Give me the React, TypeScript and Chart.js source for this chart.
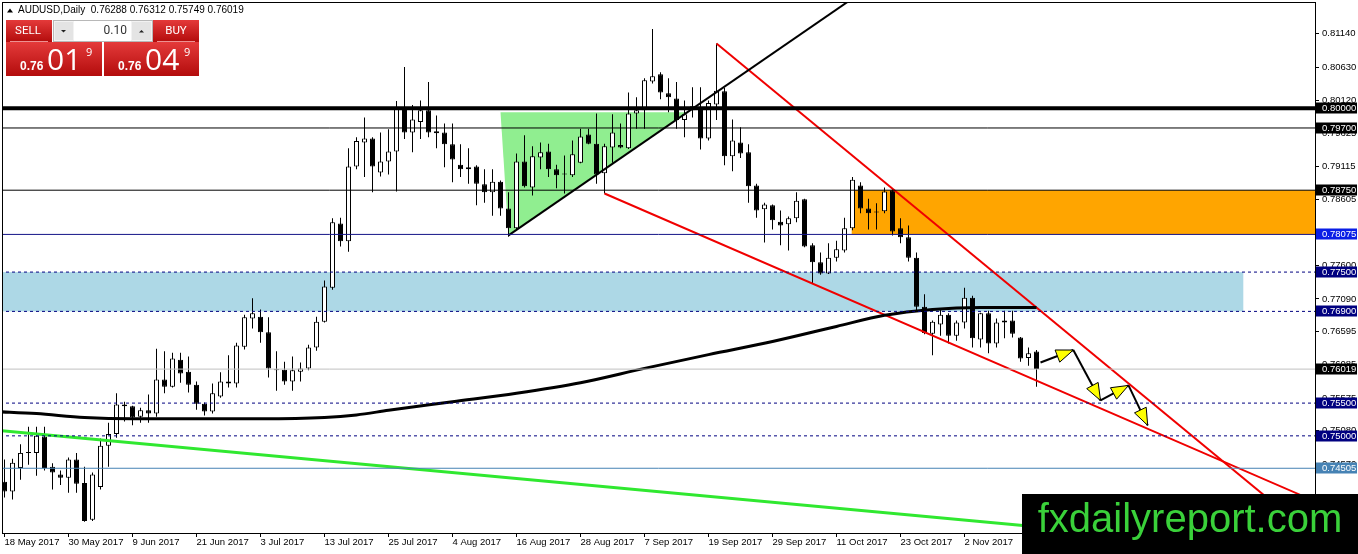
import { useEffect, useRef } from "react";
import { Chart, registerables } from "chart.js";

Chart.register(...registerables);

// AUDUSD daily candles, bar 0 = 18 May 2017, last bar = 15 Nov 2017
const opens = [
  0.743, 0.7415, 0.7451, 0.7474, 0.7474, 0.7499, 0.7453, 0.7441, 0.7436, 0.7464,
  0.7428, 0.7372, 0.7422, 0.7485, 0.7503, 0.7548, 0.7545, 0.7529, 0.7539, 0.7534,
  0.7586, 0.7575, 0.7616, 0.7598, 0.7578, 0.7549, 0.7537, 0.756, 0.7583, 0.758,
  0.7636, 0.7679, 0.7682, 0.7658, 0.7601, 0.7601, 0.7583, 0.7598, 0.7603, 0.7635,
  0.7674, 0.7726, 0.7824, 0.7797, 0.7911, 0.7948, 0.7954, 0.7902, 0.7919, 0.7934,
  0.8001, 0.7963, 0.7979, 0.7997, 0.7965, 0.7963, 0.7945, 0.7914, 0.791, 0.7911,
  0.7884, 0.7872, 0.7888, 0.7847, 0.7817, 0.7919, 0.7879, 0.7925, 0.7934, 0.7907,
  0.7899, 0.7898, 0.7917, 0.796, 0.7946, 0.7901, 0.794, 0.7944, 0.7939, 0.7992,
  0.7997, 0.8041, 0.8052, 0.8023, 0.8015, 0.7982, 0.8003, 0.8001, 0.7954, 0.8006,
  0.8026, 0.7927, 0.7948, 0.7933, 0.7882, 0.7846, 0.7852, 0.7827, 0.7823, 0.7832,
  0.7861, 0.7791, 0.7765, 0.7748, 0.7772, 0.7783, 0.7817, 0.7882, 0.7847, 0.7841,
  0.7843, 0.7875, 0.7817, 0.7803, 0.7772, 0.7697, 0.7656, 0.767, 0.7685, 0.7653,
  0.7673, 0.7711, 0.7647, 0.7687, 0.7641, 0.7676, 0.7676, 0.765, 0.7619, 0.76288,
];
const highs = [
  0.7464, 0.7465, 0.7487, 0.7514, 0.7514, 0.7514, 0.7458, 0.7447, 0.7467, 0.7474,
  0.7453, 0.7444, 0.7496, 0.752, 0.7565, 0.7552, 0.7546, 0.7543, 0.7563, 0.7633,
  0.7629, 0.7627, 0.7627, 0.7621, 0.7583, 0.7551, 0.758, 0.7597, 0.7623, 0.7642,
  0.7685, 0.771, 0.7693, 0.7681, 0.7629, 0.7613, 0.7621, 0.7612, 0.7639, 0.7682,
  0.7737, 0.7832, 0.7833, 0.7939, 0.7956, 0.7986, 0.7956, 0.7963, 0.7968, 0.8011,
  0.8063, 0.8005, 0.8012, 0.804, 0.7989, 0.7977, 0.7977, 0.7945, 0.7939, 0.7913,
  0.7907, 0.7907, 0.789, 0.7872, 0.7931, 0.7959, 0.7942, 0.7948, 0.7946, 0.7914,
  0.7928, 0.7951, 0.7969, 0.7969, 0.7992, 0.7946, 0.7991, 0.7977, 0.8024, 0.8017,
  0.8046, 0.8121, 0.8055, 0.8046, 0.804, 0.8012, 0.8032, 0.8032, 0.8012, 0.8099,
  0.8031, 0.7983, 0.7971, 0.7945, 0.7885, 0.7856, 0.7853, 0.7844, 0.7835, 0.7872,
  0.7862, 0.7794, 0.778, 0.7794, 0.7798, 0.7833, 0.7895, 0.7887, 0.7862, 0.7855,
  0.7879, 0.7878, 0.7832, 0.7821, 0.778, 0.7716, 0.7676, 0.7693, 0.7687, 0.7676,
  0.7726, 0.7714, 0.7688, 0.7691, 0.7679, 0.7691, 0.7691, 0.7651, 0.7635, 0.76312,
];
const lows = [
  0.7406, 0.7403, 0.7433, 0.7456, 0.7439, 0.7447, 0.7418, 0.7425, 0.7413, 0.7413,
  0.7369, 0.737, 0.7418, 0.7453, 0.7497, 0.7522, 0.7516, 0.752, 0.752, 0.7529,
  0.7565, 0.7574, 0.7581, 0.7566, 0.754, 0.7531, 0.7534, 0.7558, 0.7574, 0.7574,
  0.7632, 0.7664, 0.7642, 0.7589, 0.7569, 0.7578, 0.7569, 0.7583, 0.76, 0.763,
  0.7673, 0.7723, 0.7789, 0.7781, 0.7907, 0.7895, 0.7872, 0.7896, 0.7899, 0.7873,
  0.7953, 0.7933, 0.7953, 0.7956, 0.7939, 0.791, 0.7887, 0.7895, 0.7885, 0.7852,
  0.7856, 0.7836, 0.7836, 0.7804, 0.7814, 0.7879, 0.7867, 0.7907, 0.7895, 0.7878,
  0.787, 0.7895, 0.7916, 0.7945, 0.7885, 0.787, 0.7917, 0.7939, 0.7938, 0.7969,
  0.7969, 0.8038, 0.8014, 0.7994, 0.7969, 0.7956, 0.7986, 0.7937, 0.7951, 0.7982,
  0.7913, 0.7904, 0.7924, 0.7856, 0.7833, 0.7795, 0.7815, 0.7791, 0.7783, 0.7826,
  0.7788, 0.7733, 0.7746, 0.7747, 0.7766, 0.778, 0.7814, 0.784, 0.7815, 0.7815,
  0.784, 0.7806, 0.7794, 0.7766, 0.7691, 0.7655, 0.7623, 0.7653, 0.7641, 0.7645,
  0.7664, 0.7635, 0.7635, 0.7626, 0.7635, 0.7649, 0.765, 0.7613, 0.7607, 0.75749,
];
const closes = [
  0.7415, 0.7459, 0.7474, 0.7475, 0.75, 0.7451, 0.7444, 0.7436, 0.7464, 0.7427,
  0.737, 0.7441, 0.7485, 0.7503, 0.7548, 0.7545, 0.7528, 0.7539, 0.7534, 0.7586,
  0.7575, 0.7618, 0.7595, 0.7578, 0.7549, 0.7537, 0.7565, 0.7583, 0.758, 0.7638,
  0.7681, 0.7687, 0.7658, 0.7603, 0.76, 0.7583, 0.76, 0.7603, 0.7635, 0.7674,
  0.7728, 0.7826, 0.7797, 0.7911, 0.795, 0.7954, 0.7911, 0.7919, 0.7934, 0.8001,
  0.7963, 0.7983, 0.7997, 0.7963, 0.7962, 0.7945, 0.7922, 0.7907, 0.7907, 0.7885,
  0.7872, 0.7888, 0.7847, 0.7817, 0.7919, 0.7881, 0.7927, 0.7933, 0.7907, 0.7898,
  0.79, 0.793, 0.7957, 0.7946, 0.7899, 0.7942, 0.7963, 0.794, 0.7992, 0.7997,
  0.8043, 0.8049, 0.8024, 0.8017, 0.7982, 0.7991, 0.7997, 0.7954, 0.8008, 0.8027,
  0.7927, 0.7951, 0.7931, 0.7881, 0.7844, 0.7853, 0.7829, 0.7821, 0.7832, 0.7859,
  0.7789, 0.7765, 0.7748, 0.7772, 0.7785, 0.7817, 0.7891, 0.7847, 0.784, 0.7842,
  0.7873, 0.7812, 0.7803, 0.7772, 0.7697, 0.7657, 0.7674, 0.7685, 0.7653, 0.7673,
  0.7711, 0.7649, 0.7687, 0.7641, 0.7673, 0.7673, 0.7656, 0.7618, 0.7626, 0.76019,
];

const dateTicks = [0, 8, 16, 24, 32, 40, 48, 56, 64, 72, 80, 88, 96, 104, 112, 120];
const dateLabels = [
  "18 May 2017", "30 May 2017", "9 Jun 2017", "21 Jun 2017", "3 Jul 2017",
  "13 Jul 2017", "25 Jul 2017", "4 Aug 2017", "16 Aug 2017", "28 Aug 2017",
  "7 Sep 2017", "19 Sep 2017", "29 Sep 2017", "11 Oct 2017", "23 Oct 2017",
  "2 Nov 2017",
];
const priceTicks = [
  0.8114, 0.8063, 0.8012, 0.79625, 0.79115, 0.78605, 0.78095, 0.776, 0.7709,
  0.76595, 0.76085, 0.75575, 0.7508, 0.7457, 0.7406,
];

// horizontal levels drawn across the chart
const levels = [0.8, 0.797, 0.7875, 0.78075, 0.775, 0.769, 0.76019, 0.755, 0.75, 0.74505];

// rectangles: light blue zone, orange zone
const zoneFrom = [-2, 105.9];
const zoneTo = [154.85, 200];
const zoneTop = [0.775, 0.7875];
const zoneBottom = [0.769, 0.78075];

const triangleIdx = [62, 63, 85.4];
const trianglePrice = [0.7994, 0.7806, 0.7994];

// trend lines, two anchor points each (bar index, price)
const risingTrend = [[63, 0.7806], [102, 0.8134]];
const wedgeTop = [[89, 0.8099], [141.6, 0.7569]];
const wedgeBottom = [[75, 0.787], [137, 0.7542]];
const longTrend = [[-0.5, 0.7508], [29.5, 0.7474]];

// moving average read at a few bars
const maIdx = [-1, 4, 10, 16, 24, 32, 40, 44, 48, 56, 64, 72, 80, 88, 96, 104, 110, 116, 122, 129];
const maVals = [
  0.7537, 0.7534, 0.7528, 0.7526, 0.7526, 0.7526, 0.7528, 0.7532, 0.7539, 0.7552,
  0.7565, 0.7581, 0.7603, 0.7624, 0.7644, 0.7667, 0.7684, 0.7693, 0.7696, 0.7696,
];

// projected path with arrows
const pathIdx = [129.5, 133.6, 137, 140.5, 142.9];
const pathPrice = [0.7612, 0.7631, 0.7554, 0.7577, 0.7516];

const X_MIN = -0.3125;
const X_MAX = 163.8125;
const Y_MIN = 0.73517;
const Y_MAX = 0.81623;

const levelColor = ["#000000", "#000000", "#000000", "#141488", "#000080", "#000080", "#c0c0c0", "#000080", "#000080", "#4682b4"];
const levelWidth = [4, 1, 1, 1, 1, 1, 1, 1, 1, 1];
const levelDash = [[], [], [], [], [3, 3], [3, 3], [], [3, 3], [3, 3], []];
const tagColor = ["#000000", "#000000", "#000000", "#0a1ee6", "#000080", "#000080", "#000000", "#000080", "#000080", "#4682b4"];
const zoneColor = ["#add8e6", "#ffa500"];

const AXIS_FONT = '"Liberation Sans", Arial, sans-serif';

function extend(pts: number[][], from: number, to: number) {
  const [[x1, y1], [x2, y2]] = pts;
  const m = (y2 - y1) / (x2 - x1);
  return [
    { x: from, y: y1 + m * (from - x1) },
    { x: to, y: y1 + m * (to - x1) },
  ];
}

function lineSet(data: any[], color: string, width: number, dash: number[] = []) {
  return {
    type: "line" as const,
    data,
    borderColor: color,
    borderWidth: width,
    borderDash: dash,
    pointRadius: 0,
    fill: false,
    tension: 0,
    order: 0,
  };
}

function redBox(ctx: CanvasRenderingContext2D, x: number, y: number, w: number, h: number) {
  const g = ctx.createLinearGradient(0, y, 0, y + h);
  g.addColorStop(0, "#e43a3a");
  g.addColorStop(1, "#b30c0c");
  ctx.fillStyle = g;
  ctx.fillRect(x, y, w, h);
}

const overlay = {
  id: "overlay",
  beforeDatasetsDraw(chart: any) {
    const { ctx, chartArea: a, scales } = chart;
    const px = (v: number) => scales.x.getPixelForValue(v);
    const py = (v: number) => scales.y.getPixelForValue(v);
    ctx.save();
    ctx.beginPath();
    ctx.rect(a.left, a.top, a.right - a.left, a.bottom - a.top);
    ctx.clip();
    zoneFrom.forEach((f, i) => {
      ctx.fillStyle = zoneColor[i];
      const x1 = px(f);
      const y1 = py(zoneTop[i]);
      ctx.fillRect(x1, y1, px(zoneTo[i]) - x1, py(zoneBottom[i]) - y1);
    });
    ctx.fillStyle = "#90ee90";
    ctx.beginPath();
    triangleIdx.forEach((t, i) => {
      const fn = i === 0 ? "moveTo" : "lineTo";
      ctx[fn](px(t), py(trianglePrice[i]));
    });
    ctx.closePath();
    ctx.fill();
    ctx.restore();
  },
  afterDatasetsDraw(chart: any) {
    const { ctx, scales } = chart;
    const px = (v: number) => scales.x.getPixelForValue(v);
    const py = (v: number) => scales.y.getPixelForValue(v);
    ctx.save();
    for (let k = 0; k < pathIdx.length - 1; k++) {
      const x1 = px(pathIdx[k]);
      const y1 = py(pathPrice[k]);
      const x2 = px(pathIdx[k + 1]);
      const y2 = py(pathPrice[k + 1]);
      ctx.strokeStyle = "#000";
      ctx.lineWidth = 2;
      ctx.beginPath();
      ctx.moveTo(x1, y1);
      ctx.lineTo(x2, y2);
      ctx.stroke();
      const ang = Math.atan2(y2 - y1, x2 - x1);
      const len = 17;
      const half = 6.5;
      const bx = x2 - len * Math.cos(ang);
      const by = y2 - len * Math.sin(ang);
      const nx = -Math.sin(ang) * half;
      const ny = Math.cos(ang) * half;
      ctx.beginPath();
      ctx.moveTo(x2, y2);
      ctx.lineTo(bx + nx, by + ny);
      ctx.lineTo(bx - nx, by - ny);
      ctx.closePath();
      ctx.fillStyle = "#ffff00";
      ctx.fill();
      ctx.lineWidth = 1;
      ctx.stroke();
    }
    ctx.restore();
  },
  afterDraw(chart: any) {
    const { ctx, chartArea: a, scales } = chart;
    const py = (v: number) => scales.y.getPixelForValue(v);
    ctx.save();
    // frame
    ctx.strokeStyle = "#000";
    ctx.lineWidth = 1;
    ctx.strokeRect(a.left + 0.5, a.top + 0.5, a.right - a.left, a.bottom - a.top);

    // price tags on the right axis
    ctx.font = `9.5px ${AXIS_FONT}`;
    ctx.textBaseline = "middle";
    ctx.textAlign = "left";
    levels.forEach((lv, i) => {
      const y = Math.round(py(lv));
      ctx.fillStyle = tagColor[i];
      ctx.fillRect(a.right + 1, y - 5.5, 41, 11);
      ctx.fillStyle = "#fff";
      ctx.fillText(lv.toFixed(5), a.right + 7, y + 0.5);
    });

    // header
    ctx.fillStyle = "#000";
    ctx.beginPath();
    ctx.moveTo(7, 12.5);
    ctx.lineTo(13, 12.5);
    ctx.lineTo(10, 8.5);
    ctx.closePath();
    ctx.fill();
    ctx.font = `10px ${AXIS_FONT}`;
    ctx.fillText("AUDUSD,Daily  0.76288 0.76312 0.75749 0.76019", 18, 10.5);

    // one-click trading panel
    redBox(ctx, 6, 20, 46, 22);
    redBox(ctx, 153, 20, 46, 22);
    redBox(ctx, 6, 42, 96, 34);
    redBox(ctx, 104, 42, 95, 34);
    ctx.fillStyle = "rgba(255,190,190,0.75)";
    ctx.fillRect(10, 41, 38, 1);
    ctx.fillRect(157, 41, 38, 1);
    ctx.fillStyle = "#f2f2f2";
    ctx.fillRect(53, 20, 100, 22);
    ctx.strokeStyle = "#b8b8b8";
    ctx.strokeRect(53.5, 20.5, 99, 21);
    ctx.fillStyle = "#e4e4e4";
    ctx.fillRect(55, 22, 18, 18);
    ctx.fillRect(132, 22, 19, 18);
    ctx.fillStyle = "#fff";
    ctx.fillRect(74, 21, 57, 20);
    ctx.fillStyle = "#222";
    ctx.beginPath();
    ctx.moveTo(61, 30);
    ctx.lineTo(66, 30);
    ctx.lineTo(63.5, 32.5);
    ctx.closePath();
    ctx.fill();
    ctx.beginPath();
    ctx.moveTo(139, 32.5);
    ctx.lineTo(144, 32.5);
    ctx.lineTo(141.5, 30);
    ctx.closePath();
    ctx.fill();
    ctx.font = "12px Roboto";
    ctx.textAlign = "right";
    ctx.fillStyle = "#333";
    ctx.fillText("0.10", 127, 31);

    ctx.fillStyle = "#fff";
    ctx.textAlign = "center";
    ctx.font = "11.5px Roboto";
    ctx.fillText("SELL", 28, 31.5);
    ctx.fillText("BUY", 176, 31.5);

    ctx.textAlign = "left";
    ctx.textBaseline = "alphabetic";
    const bigQuote = (x: number, digits: string) => {
      ctx.font = `bold 12px ${AXIS_FONT}`;
      ctx.fillText("0.76", x, 70);
      ctx.font = '30px "Open Sans"';
      ctx.fillText(digits, x + 27, 70);
      ctx.font = '11px "Open Sans"';
      ctx.fillText("9", x + 66, 56);
    };
    bigQuote(20, "01");
    bigQuote(118, "04");

    // watermark
    ctx.fillStyle = "#000";
    ctx.fillRect(1022, 494, 336, 60);
    ctx.fillStyle = "#3ad13a";
    ctx.font = `40px ${AXIS_FONT}`;
    ctx.textAlign = "center";
    ctx.fillText("fxdailyreport.com", 1190, 532);
    ctx.restore();
  },
};

export default function App() {
  const canvasRef = useRef<HTMLCanvasElement | null>(null);

  useEffect(() => {
    if (!canvasRef.current) return;

    const bodies = {
      type: "bar" as const,
      data: opens.map((o, i) => ({ x: i, y: [o, closes[i]] })),
      backgroundColor: opens.map((o, i) => (closes[i] >= o ? "#ffffff" : "#000000")),
      borderColor: "#000000",
      borderWidth: 1,
      borderSkipped: false,
      barThickness: 5,
      maxBarThickness: 5,
      minBarLength: 1,
      grouped: false,
      inflateAmount: 0,
      order: 1,
    };
    const wicks = {
      type: "bar" as const,
      data: lows.map((l, i) => ({ x: i, y: [l, highs[i]] })),
      backgroundColor: "#000000",
      borderWidth: 0,
      barThickness: 1,
      maxBarThickness: 1,
      grouped: false,
      inflateAmount: 0,
      order: 2,
    };

    const levelSets = levels.map((lv, i) =>
      lineSet(
        [
          { x: X_MIN - 1, y: lv },
          { x: X_MAX + 1, y: lv },
        ],
        levelColor[i],
        levelWidth[i],
        levelDash[i],
      ),
    );

    const ma = {
      ...lineSet(
        maIdx.map((x, i) => ({ x, y: maVals[i] })),
        "#000000",
        3,
      ),
      cubicInterpolationMode: "monotone" as const,
    };

    const chart = new Chart(canvasRef.current, {
      type: "line",
      data: {
        datasets: [
          ...levelSets,
          lineSet(extend(longTrend, X_MIN - 1, X_MAX + 1), "#30e830", 3),
          ma,
          lineSet(extend(risingTrend, 63, 130), "#000000", 2),
          lineSet(extend(wedgeTop, 89, X_MAX + 1), "#f00000", 2),
          lineSet(extend(wedgeBottom, 75, X_MAX + 1), "#f00000", 2),
          bodies,
          wicks,
        ] as any,
      },
      options: {
        responsive: false,
        animation: false,
        events: [],
        layout: { autoPadding: false, padding: { left: 2, top: 2, right: 0, bottom: 0 } },
        plugins: {
          legend: { display: false },
          tooltip: { enabled: false },
        },
        scales: {
          x: {
            type: "linear",
            position: "bottom",
            min: X_MIN,
            max: X_MAX,
            offset: false,
            afterBuildTicks: (s: any) => {
              s.ticks = dateTicks.map((v) => ({ value: v }));
            },
            afterFit: (s: any) => {
              s.height = 21;
              s.paddingLeft = 0;
              s.paddingRight = 0;
            },
            grid: {
              display: true,
              drawOnChartArea: false,
              drawTicks: true,
              tickLength: 4,
              color: "#000000",
              offset: false,
            },
            border: { display: false },
            ticks: {
              autoSkip: false,
              maxRotation: 0,
              align: "start",
              padding: 0,
              color: "#000000",
              font: { family: AXIS_FONT, size: 9.5 },
              callback: (_v: any, i: number) => dateLabels[i],
            },
          },
          y: {
            type: "linear",
            position: "right",
            min: Y_MIN,
            max: Y_MAX,
            afterBuildTicks: (s: any) => {
              s.ticks = priceTicks.map((v) => ({ value: v }));
            },
            afterFit: (s: any) => {
              s.width = 43;
              s.paddingTop = 0;
              s.paddingBottom = 0;
            },
            grid: {
              display: true,
              drawOnChartArea: false,
              drawTicks: true,
              tickLength: 4,
              color: "#000000",
            },
            border: { display: false },
            ticks: {
              autoSkip: false,
              padding: 3,
              color: "#000000",
              font: { family: AXIS_FONT, size: 9.5 },
              callback: (v: any) => Number(v).toFixed(5),
            },
          },
        },
      } as any,
      plugins: [overlay],
    });

    return () => {
      chart.destroy();
    };
  }, []);

  return (
    <div
      style={{
        position: "fixed",
        left: 0,
        top: 0,
        width: "1358px",
        height: "554px",
        background: "#ffffff",
      }}
    >
      <canvas ref={canvasRef} width={1358} height={554} style={{ display: "block" }} />
    </div>
  );
}
